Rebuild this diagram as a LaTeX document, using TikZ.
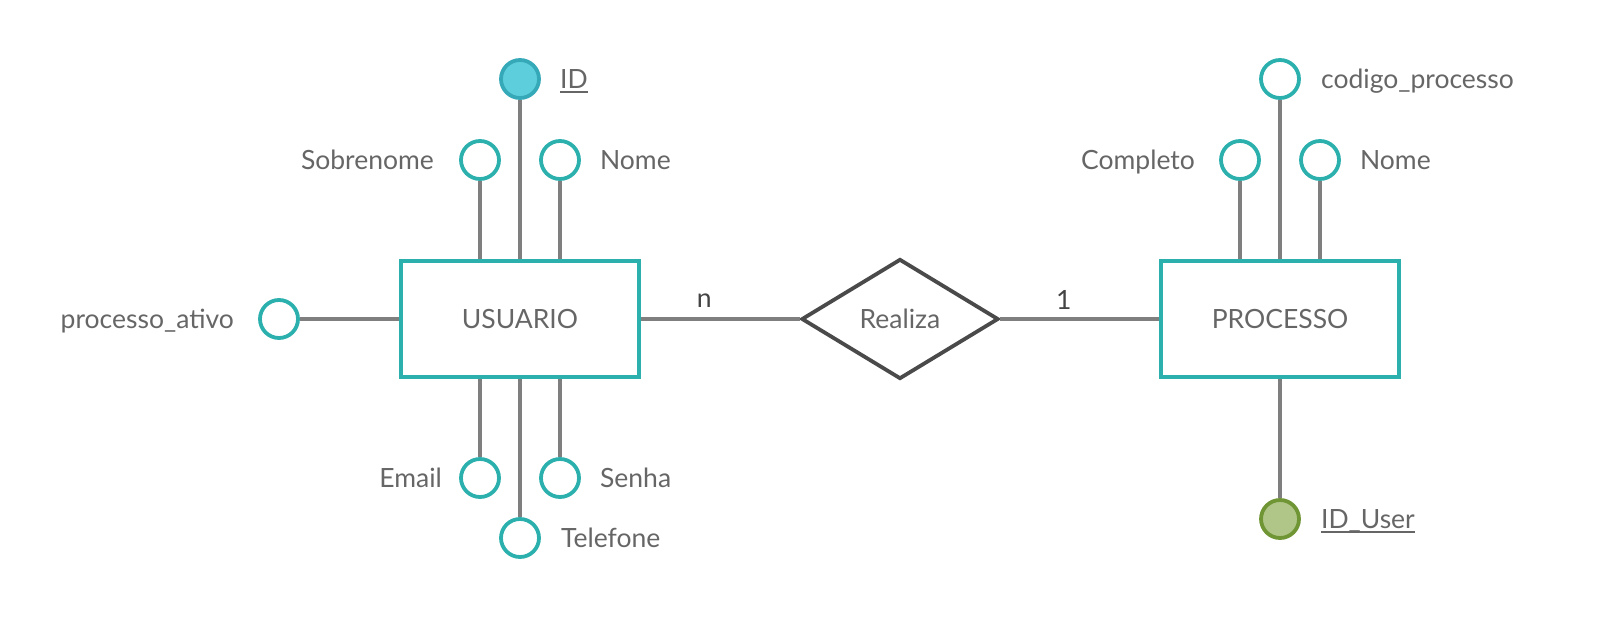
\documentclass[tikz,border=0pt]{standalone}
\usepackage{fontspec}
\setmainfont{Lato}
\usepackage{xcolor}
\usepackage{tikz}
\usetikzlibrary{positioning}
\usetikzlibrary{shapes.geometric}

\definecolor{erteal}{HTML}{2BB0AD}
\definecolor{ergray}{HTML}{7F7F7F}
\definecolor{erdark}{HTML}{4A4A4A}
\definecolor{ertext}{HTML}{666666}
\definecolor{ercard}{HTML}{444444}
\definecolor{idfill}{HTML}{5DCEDB}
\definecolor{idline}{HTML}{36A9B8}
\definecolor{fkfill}{HTML}{B0C688}
\definecolor{fkline}{HTML}{6F9535}

\newcommand{\sublinha}[1]{\setbox0\hbox{#1}\rlap{\rule[-4.5pt]{\wd0}{2.2pt}}\box0}

\tikzset{
  txt/.style={font=\fontsize{26.5}{30}\selectfont, text height=19pt, text depth=0pt},
  entidade/.style={draw=erteal, line width=3.8pt, minimum width=238pt, minimum height=116pt, txt, text=ertext},
  relacao/.style={diamond, draw=erdark, line width=3.8pt, minimum width=197pt, minimum height=120pt, inner sep=0pt, txt, text=ertext},
  atributo/.style={circle, draw=erteal, line width=3.8pt, minimum size=38pt, inner sep=0pt},
  chave/.style={atributo, draw=idline, fill=idfill},
  estrangeira/.style={atributo, draw=fkline, fill=fkfill},
  rotulo/.style={txt, text=ertext, inner sep=0pt},
  cardinal/.style={font=\fontsize{26.5}{30}\selectfont, text=ercard, inner sep=0pt},
  ligacao/.style={draw=ergray, line width=3.8pt},
}

\begin{document}
\begin{tikzpicture}[x=1pt, y=-1pt]
                \useasboundingbox (0,0) rectangle (1620,616);
                % entidades e relacionamento
                \node[entidade] (usuario) at (520,319) {USUARIO};
                \node[relacao] (realiza) at (900,319) {Realiza};
                \node[entidade] (processo) at (1280,319) {PROCESSO};
                % atributos de usuario
                \node[chave] (id) at (520,79) {};
                \node[atributo] (sobrenome) at (480,160) {};
                \node[atributo] (nome) at (560,160) {};
                \node[atributo] (ativo) at (279,319) {};
                \node[atributo] (email) at (480,478) {};
                \node[atributo] (senha) at (560,478) {};
                \node[atributo] (telefone) at (520,538) {};
                % atributos de processo
                \node[atributo] (codigo) at (1280,79) {};
                \node[atributo] (completo) at (1240,160) {};
                \node[atributo] (pnome) at (1320,160) {};
                \node[estrangeira] (iduser) at (1280,519) {};
                % rotulos
                \node[rotulo, right=19pt of id] (tid) {\sublinha{ID}};
                \node[rotulo, left=25pt of sobrenome] (tsobrenome) {Sobrenome};
                \node[rotulo, right=19pt of nome] (tnome) {Nome};
                \node[rotulo, left=24pt of ativo] (tativo) {processo\_ativo};
                \node[rotulo, left=17pt of email] (temail) {Email};
                \node[rotulo, right=19pt of senha] (tsenha) {Senha};
                \node[rotulo, right=20pt of telefone] (ttelefone) {Telefone};
                \node[rotulo, right=20pt of codigo] (tcodigo) {codigo\_processo};
                \node[rotulo, left=24pt of completo] (tcompleto) {Completo};
                \node[rotulo, right=19pt of pnome] (tpnome) {Nome};
                \node[rotulo, right=20pt of iduser] (tiduser) {\sublinha{ID\_User}};
                % ligacoes
                \draw[ligacao] (id) -- (id |- usuario.north);
                \draw[ligacao] (sobrenome) -- (sobrenome |- usuario.north);
                \draw[ligacao] (nome) -- (nome |- usuario.north);
                \draw[ligacao] (ativo) -- (usuario);
                \draw[ligacao] (email) -- (email |- usuario.south);
                \draw[ligacao] (senha) -- (senha |- usuario.south);
                \draw[ligacao] (telefone) -- (telefone |- usuario.south);
                \draw[ligacao] (codigo) -- (codigo |- processo.north);
                \draw[ligacao] (completo) -- (completo |- processo.north);
                \draw[ligacao] (pnome) -- (pnome |- processo.north);
                \draw[ligacao] (iduser) -- (processo);
                \draw[ligacao] (usuario) -- node[cardinal, pos=0.4, above=10pt] (cn) {n} (realiza);
                \draw[ligacao] (realiza) -- node[cardinal, pos=0.4, above=8pt] (c1) {1} (processo);
            \end{tikzpicture}
\end{document}
